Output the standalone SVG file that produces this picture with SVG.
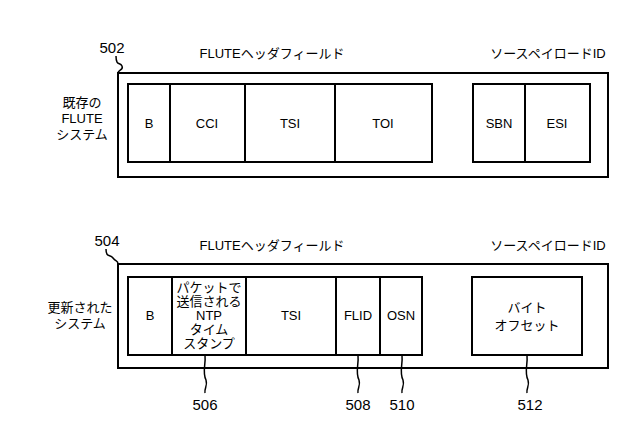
<svg xmlns="http://www.w3.org/2000/svg" width="640" height="446" viewBox="0 0 640 446">
<style>
rect{fill:#fff;stroke:#000;stroke-width:2}
text{font-family:"Liberation Sans","Noto Sans CJK JP",sans-serif;font-size:13px;text-anchor:middle;fill:#000}
.n{font-size:15px}
.c{font-size:14px}
path{fill:none;stroke:#000;stroke-width:1.5}
</style>
<rect x="0" y="0" width="640" height="446" style="stroke:none"/>
<g id="top">
<text class="n" x="112" y="53">502</text>
<text x="272" y="58">FLUTEヘッダフィールド</text>
<text x="548" y="58">ソースペイロードID</text>
<rect x="118" y="73" width="490" height="104"/>
<text x="82" y="107">既存の</text><text x="82" y="123">FLUTE</text><text x="82" y="139">システム</text>
<g id="B1"><rect x="128" y="84" width="42" height="78"/><text x="149" y="128">B</text></g>
<g id="CCI"><rect x="170" y="84" width="75" height="78"/><text x="207" y="128">CCI</text></g>
<g id="TSI1"><rect x="245" y="84" width="90" height="78"/><text x="290" y="128">TSI</text></g>
<g id="TOI"><rect x="335" y="84" width="97" height="78"/><text x="383" y="128">TOI</text></g>
<g id="SBN"><rect x="473" y="84" width="52" height="78"/><text x="499" y="128">SBN</text></g>
<g id="ESI"><rect x="525" y="84" width="65" height="78"/><text x="557" y="128">ESI</text></g>
</g>
<g id="bottom">
<text class="n" x="107" y="246">504</text>
<text x="272" y="250">FLUTEヘッダフィールド</text>
<text x="548" y="250">ソースペイロードID</text>
<rect x="118" y="264" width="490" height="104"/>
<text x="80" y="312">更新された</text><text x="80" y="328">システム</text>
<g id="B2"><rect x="128" y="277" width="44" height="78"/><text x="150" y="320">B</text></g>
<g id="NTP"><rect x="172" y="277" width="74" height="78"/>
<text x="209" y="292">パケットで</text><text x="209" y="306">送信される</text><text x="209" y="320">NTP</text><text x="209" y="334">タイム</text><text x="209" y="348">スタンプ</text></g>
<g id="TSI2"><rect x="246" y="277" width="90" height="78"/><text x="291" y="320">TSI</text></g>
<g id="FLID"><rect x="336" y="277" width="44" height="78"/><text x="358" y="320">FLID</text></g>
<g id="OSN"><rect x="380" y="277" width="42" height="78"/><text x="401" y="320">OSN</text></g>
<g id="BYTE"><rect x="472" y="277" width="110" height="78"/><text x="527" y="312">バイト</text><text x="527" y="330">オフセット</text></g>
<text class="n" x="205" y="410">506</text>
<text class="n" x="358" y="410">508</text>
<text class="n" x="402" y="410">510</text>
<text class="n" x="530" y="410">512</text>
</g>
<g id="connectors">
<path d="M116,56 C116,66 120,62 122,66 C124,70 118,70 118,73"/>
<path d="M106,249 C106,258 110,254 113,258 C116,262 118,260 118,264"/>
<path d="M205,355 C206,365 202,372 206,380 C208,386 204,388 205,393"/>
<path d="M358,355 C359,365 355,372 359,380 C361,386 357,388 358,393"/>
<path d="M402,355 C403,365 399,372 403,380 C405,386 401,388 402,393"/>
<path d="M527,355 C528,365 524,372 528,380 C530,386 526,388 527,393"/>
</g>
</svg>
